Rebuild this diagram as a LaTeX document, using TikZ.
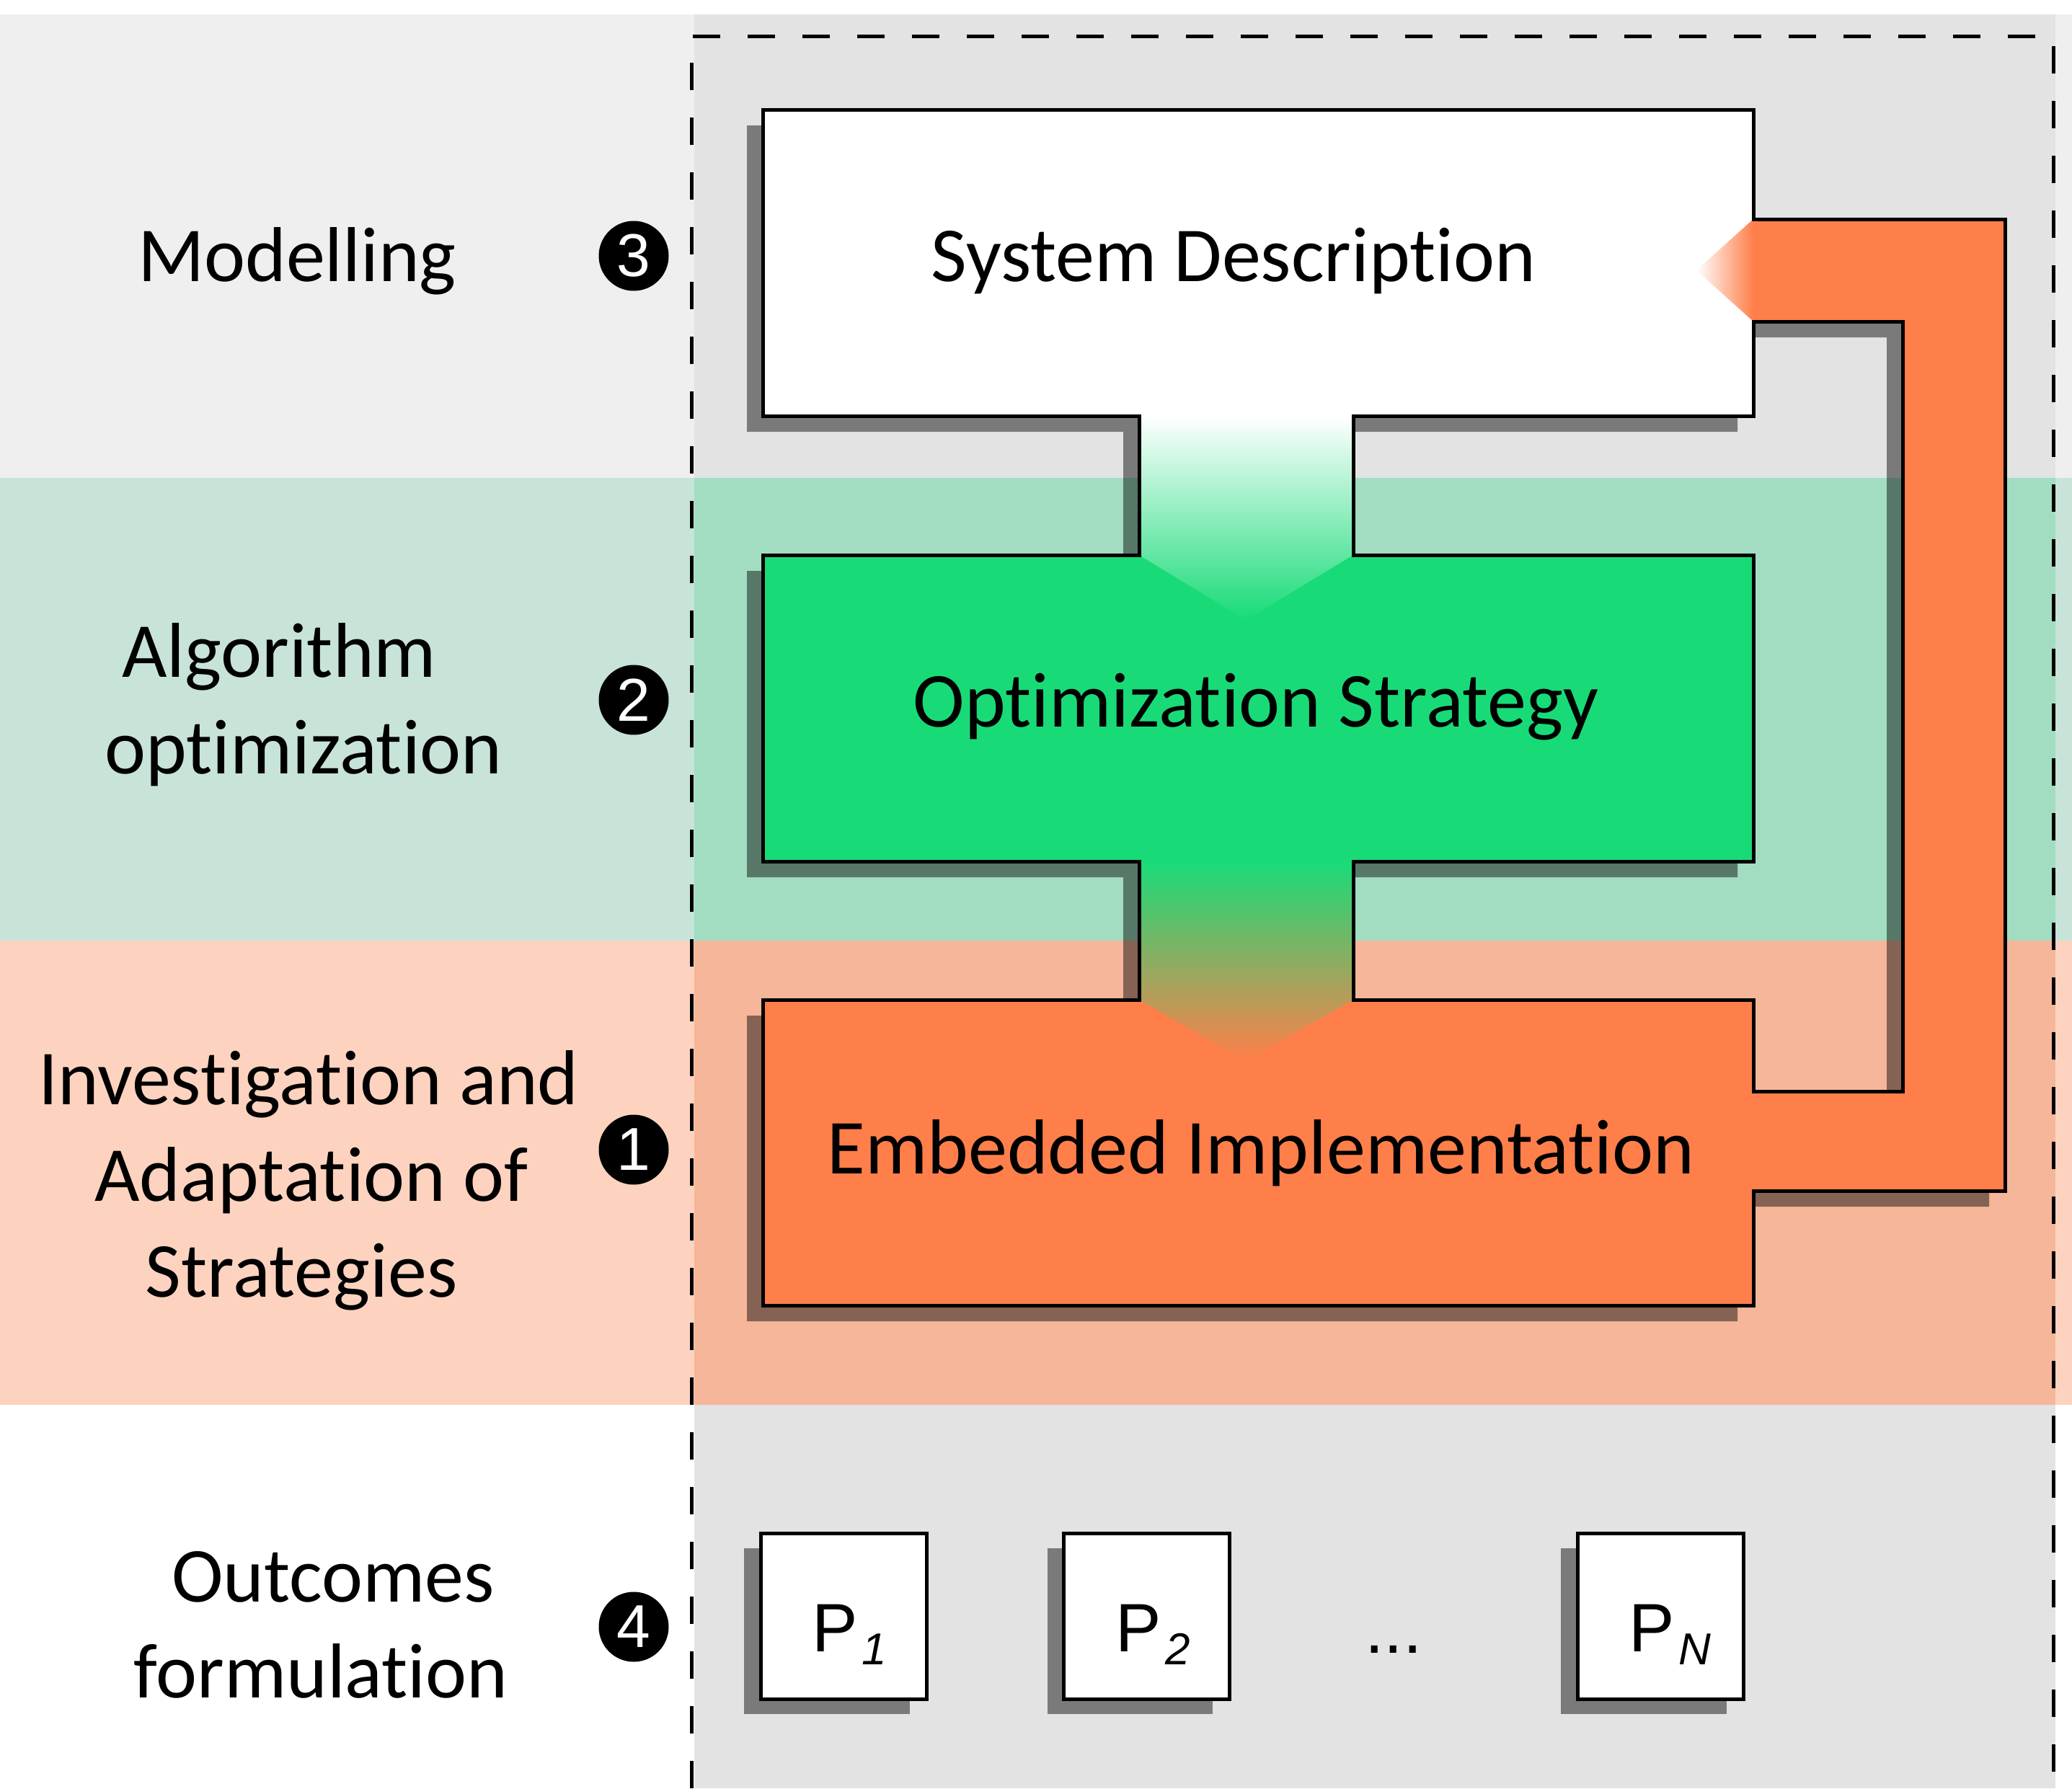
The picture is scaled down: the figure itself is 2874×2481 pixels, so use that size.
\documentclass[tikz,border=0pt]{standalone}
\usepackage{fontspec}
\setmainfont{Carlito}[RawFeature=-liga,RawFeature=-clig,RawFeature=-dlig]
\newfontfamily\arialf{Liberation Sans}
\definecolor{bandgrayL}{HTML}{EFEFEF}
\definecolor{bandgrayR}{HTML}{E3E3E3}
\definecolor{bandgreenL}{HTML}{C8E4D8}
\definecolor{bandgreenR}{HTML}{A2DDC2}
\definecolor{bandsalmL}{HTML}{FDD3C0}
\definecolor{bandsalmR}{HTML}{F6B69A}
\definecolor{boxgreen}{HTML}{18DB78}
\definecolor{boxorange}{HTML}{FF7F4A}
\begin{document}
\begin{tikzpicture}[x=1pt,y=-1pt,
 lbl/.style={anchor=base,font=\fontsize{108}{130}\selectfont,inner sep=0},
 numc/.style={circle,fill=black,minimum size=97pt,inner sep=0,text=white,font=\arialf\fontsize{84}{84}\selectfont},
 outl/.style={line width=5pt,line join=miter},
 shad/.style={fill=black,fill opacity=0.46},
 pbox/.style={draw=black,line width=5pt,fill=white,minimum size=230pt,inner sep=0},
 ptext/.style={anchor=base west,inner sep=0,font=\arialf\fontsize{95}{95}\selectfont},
]
\useasboundingbox (0,0) rectangle (2874,2481);
% background bands
\fill[white] (0,0) rectangle (2874,2481);
\fill[bandgrayL] (0,20) rectangle (2874,663);
\fill[bandgreenL] (0,663) rectangle (2874,1305);
\fill[bandsalmL] (0,1305) rectangle (2874,1949);
\fill[bandgrayR] (963,20) rectangle (2851,663);
\fill[bandgreenR] (963,663) rectangle (2851,1305);
\fill[bandsalmR] (963,1305) rectangle (2851,1949);
\fill[bandgrayR] (963,1949) rectangle (2851,2481);
% dashed frame
\draw[line width=5pt,dash pattern=on 38pt off 38pt] (959,2481) -- (959,51) -- (2848,51) -- (2848,2481);
% shadow of the big shape
\fill[shad,even odd rule,shift={(-22,22)}]
 (1058,152) -- (2432,152) -- (2432,304) -- (2781,304) -- (2781,1652) -- (2432,1652) -- (2432,1811) -- (1058,1811) -- (1058,1387) -- (1580,1387) -- (1580,1195) -- (1058,1195) -- (1058,770) -- (1580,770) -- (1580,577) -- (1058,577) -- cycle
 (2432,446) -- (2639,446) -- (2639,1514) -- (2432,1514) -- (2432,1387) -- (1877,1387) -- (1877,1195) -- (2432,1195) -- (2432,770) -- (1877,770) -- (1877,577) -- (2432,577) -- cycle;
% fills
\fill[white] (1058,152) rectangle (2432,577);
\fill[boxgreen] (1058,770) rectangle (2432,1195);
\fill[boxorange] (1058,1387) rectangle (2432,1811);
\fill[boxorange] (2432,304) -- (2781,304) -- (2781,1652) -- (2432,1652) -- (2432,1514) -- (2639,1514) -- (2639,446) -- (2432,446) -- cycle;
\shade[left color=white,right color=boxorange] (2432,304) -- (2353,375) -- (2432,446) -- cycle;
\shade[top color=white,bottom color=boxgreen] (1580,577) -- (1877,577) -- (1877,770) -- (1728,860) -- (1580,770) -- cycle;
\shade[top color=boxgreen,bottom color=boxorange] (1580,1195) -- (1877,1195) -- (1877,1387) -- (1728,1472) -- (1580,1387) -- cycle;
% outlines
\draw[outl] (1058,152) -- (2432,152) -- (2432,304) -- (2781,304) -- (2781,1652) -- (2432,1652) -- (2432,1811) -- (1058,1811) -- (1058,1387) -- (1580,1387) -- (1580,1195) -- (1058,1195) -- (1058,770) -- (1580,770) -- (1580,577) -- (1058,577) -- cycle;
\draw[outl] (2432,446) -- (2639,446) -- (2639,1514) -- (2432,1514) -- (2432,1387) -- (1877,1387) -- (1877,1195) -- (2432,1195) -- (2432,770) -- (1877,770) -- (1877,577) -- (2432,577) -- cycle;
% box texts
\node[lbl] (sd) at (1711,390) {System Description};
\node[lbl] (os) at (1742,1008) {Optimization Strategy};
\node[lbl] (ei) at (1749,1628) {Embedded Implementation};
% left labels
\node[lbl] (mod) at (412,390) {Modelling};
\node[lbl] (alg1) at (387,939) {Algorithm};
\node[lbl] (alg2) at (421,1073) {optimization};
\node[lbl] (inv1) at (428,1532) {Investigation and};
\node[lbl] (inv2) at (432,1666) {Adaptation of};
\node[lbl] (inv3) at (418,1799) {Strategies};
\node[lbl] (out1) at (462,2222) {Outcomes};
\node[lbl] (out2) at (445,2355) {formulation};
% numbers
\node[numc] (n3) at (879,355) {3};
\node[numc] (n2) at (879,971) {2};
\node[numc] (n1) at (879,1595) {1};
\node[numc] (n4) at (879,2257) {4};
% outcome boxes
\fill[shad] (1032,2148) rectangle (1262,2378);
\fill[shad] (1453,2148) rectangle (1682,2378);
\fill[shad] (2165,2148) rectangle (2395,2378);
\node[pbox] (p1) at (1170,2242) {};
\node[pbox] (p2) at (1590.5,2242) {};
\node[pbox] (pn) at (2303,2242) {};
\node[ptext] (p1t) at (1126,2291) {P\hspace{6pt}\raisebox{-18pt}{\fontsize{62}{62}\selectfont\itshape 1}};
\node[ptext] (p2t) at (1547,2291) {P\hspace{6pt}\raisebox{-18pt}{\fontsize{62}{62}\selectfont\itshape 2}};
\node[ptext] (pnt) at (2259,2291) {P\hspace{6pt}\raisebox{-18pt}{\fontsize{62}{62}\selectfont\itshape N}};
\node[anchor=base,inner sep=0,font=\arialf\fontsize{95}{95}\selectfont] (dots) at (1933,2293) {...};
\end{tikzpicture}
\end{document}
